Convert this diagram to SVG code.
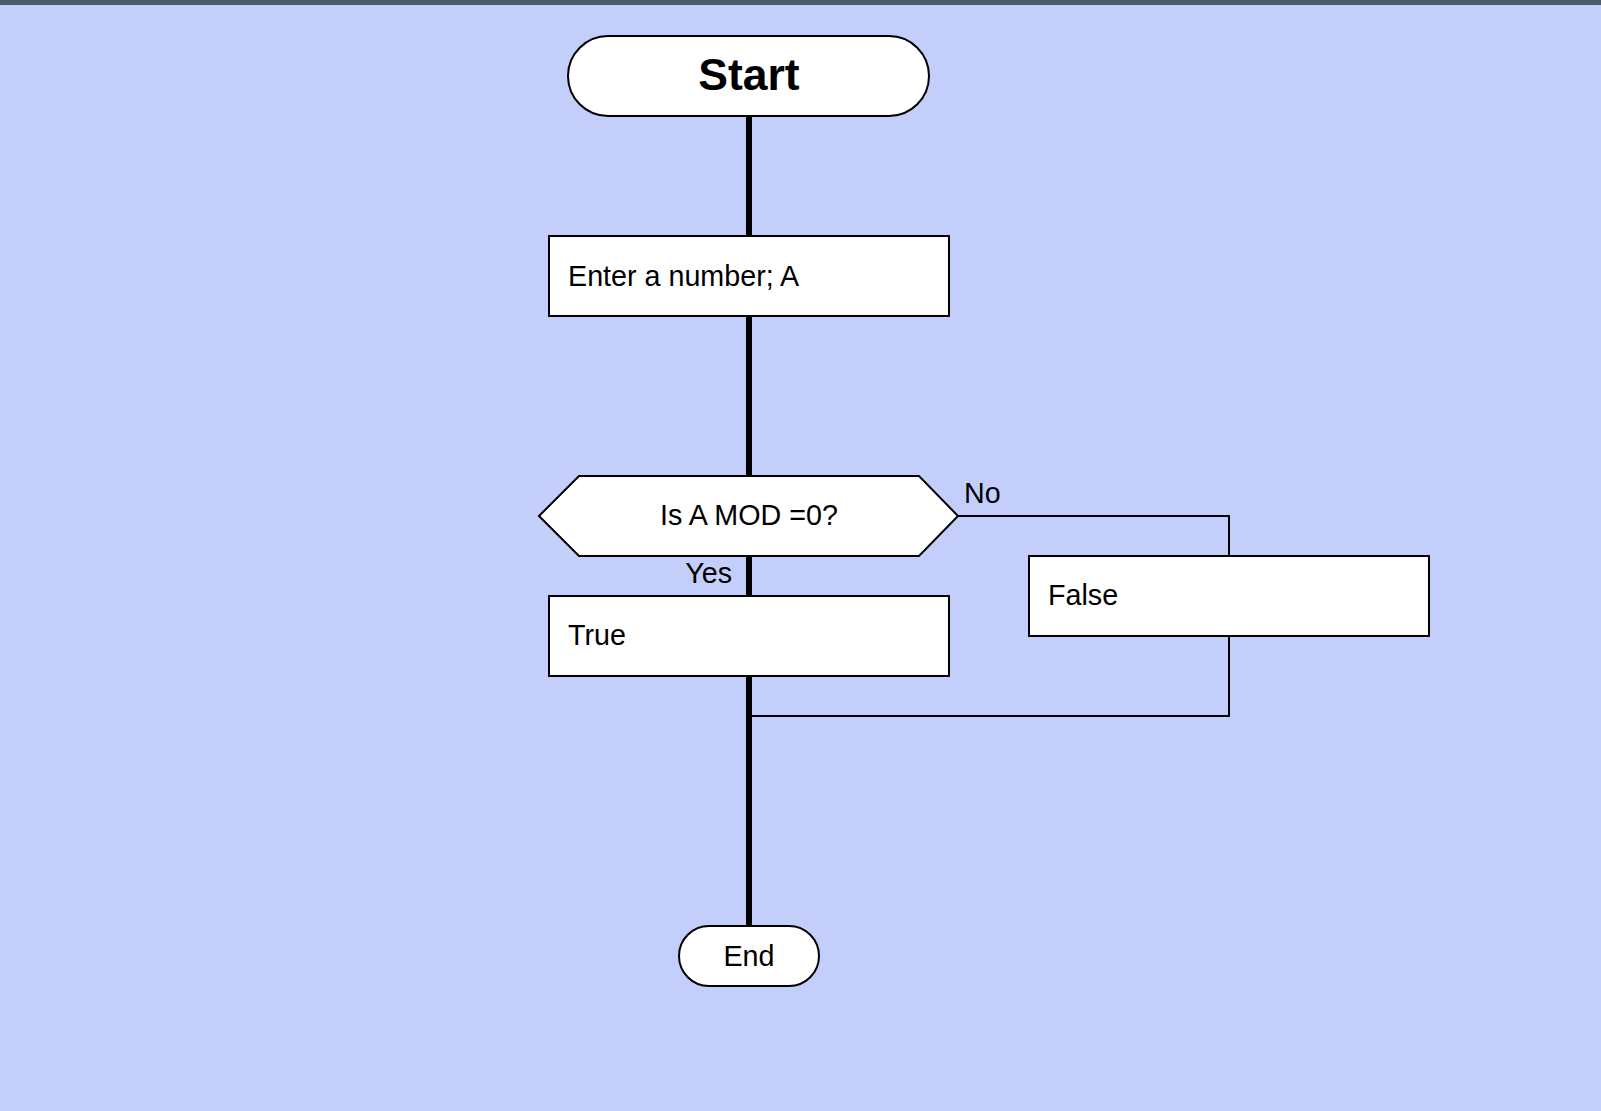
<svg xmlns="http://www.w3.org/2000/svg" width="1601" height="1111" viewBox="0 0 1601 1111">
<style>
.shape{fill:#ffffff;stroke:#000000;stroke-width:2}
.thick{stroke:#000000;stroke-width:6;fill:none}
.thin{stroke:#000000;stroke-width:2;fill:none}
text{font-family:"Liberation Sans",Arial,sans-serif;fill:#000000}
.lbl{font-size:28.7px}
</style>
<rect x="0" y="0" width="1601" height="1111" fill="#c3cffa"/>
<rect x="0" y="0" width="1601" height="5" fill="#4a5b6b"/>
<g id="connectors">
<line class="thick" x1="749" y1="116" x2="749" y2="236"/>
<line class="thick" x1="749" y1="316" x2="749" y2="476"/>
<line class="thick" x1="749" y1="556" x2="749" y2="596"/>
<line class="thick" x1="749" y1="676" x2="749" y2="926"/>
<polyline class="thin" points="957,516 1229,516 1229,556"/>
<polyline class="thin" points="1229,636 1229,716 752,716"/>
<text class="lbl" x="964" y="503">No</text>
<text class="lbl" x="732" y="583" text-anchor="end">Yes</text>
</g>
<g id="start">
<rect class="shape" x="568" y="36" width="361" height="80" rx="40" ry="40"/>
<text x="749" y="90" text-anchor="middle" font-size="44.5" font-weight="bold">Start</text>
</g>
<g id="input">
<rect class="shape" x="549" y="236" width="400" height="80"/>
<text class="lbl" x="568" y="286">Enter a number; A</text>
</g>
<g id="decision">
<polygon class="shape" points="539,516 579,476 919,476 958,516 919,556 579,556"/>
<text class="lbl" x="749" y="525" text-anchor="middle">Is A MOD =0?</text>
</g>
<g id="true">
<rect class="shape" x="549" y="596" width="400" height="80"/>
<text class="lbl" x="568" y="645">True</text>
</g>
<g id="false">
<rect class="shape" x="1029" y="556" width="400" height="80"/>
<text class="lbl" x="1048" y="605">False</text>
</g>
<g id="end">
<rect class="shape" x="679" y="926" width="140" height="60" rx="30" ry="30"/>
<text class="lbl" x="749" y="966" text-anchor="middle">End</text>
</g>
</svg>
